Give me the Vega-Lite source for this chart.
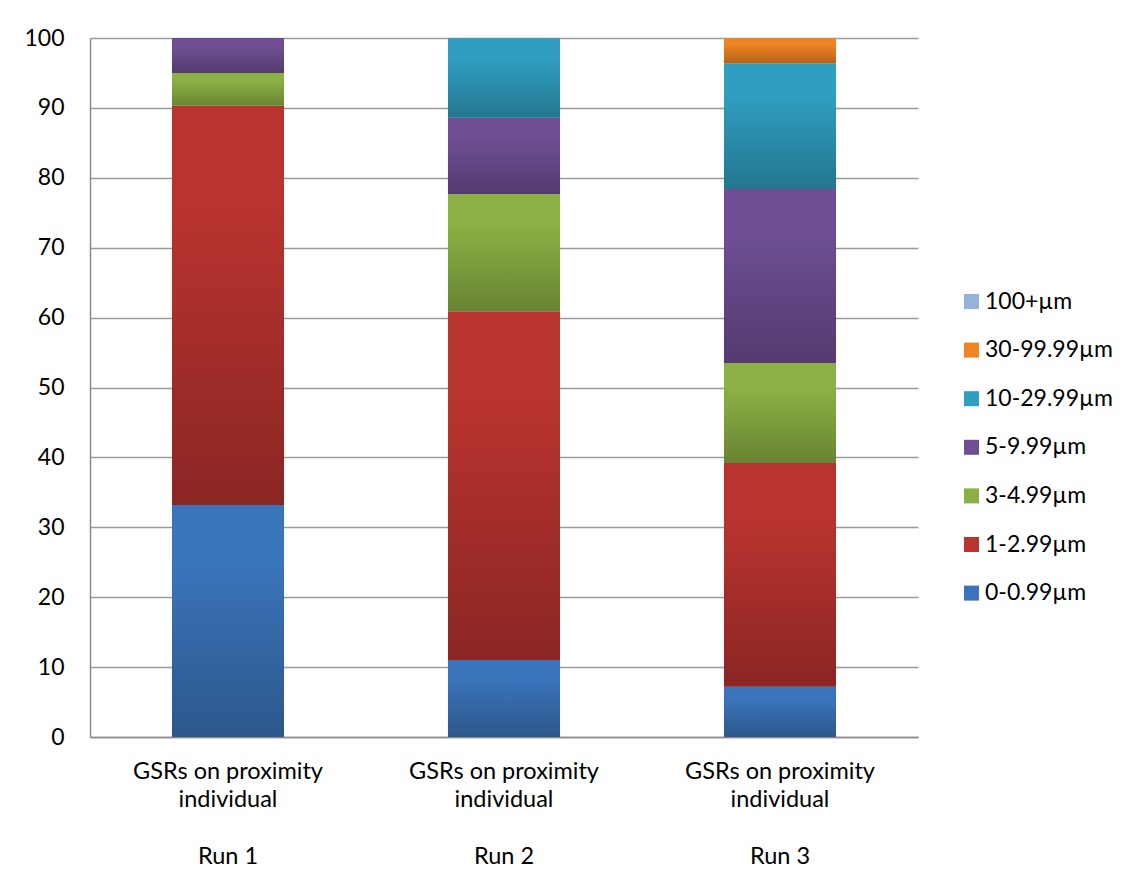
{
  "$schema": "https://vega.github.io/schema/vega-lite/v6.json",
  "autosize": "none",
  "padding": {"left": 90, "top": 38, "right": 223, "bottom": 144},
  "width": 828,
  "height": 699,
  "background": "white",
  "config": {
    "font": "Lato",
    "view": {"stroke": null},
    "axis": {"labelFont": "Lato", "labelFontSize": 23, "labelColor": "#000", "ticks": false, "domainColor": "#8a8a8a", "domainWidth": 1.5, "gridColor": "#9a9a9a", "gridWidth": 1.5, "title": null},
    "legend": {"labelFont": "Lato", "labelFontSize": 23, "labelColor": "#000"}
  },
  "data": {"values": [
    {"run": "Run 1", "size": "0-0.99µm", "pct": 33.2},
    {"run": "Run 1", "size": "1-2.99µm", "pct": 57.1},
    {"run": "Run 1", "size": "3-4.99µm", "pct": 4.7},
    {"run": "Run 1", "size": "5-9.99µm", "pct": 5.0},
    {"run": "Run 1", "size": "10-29.99µm", "pct": 0},
    {"run": "Run 1", "size": "30-99.99µm", "pct": 0},
    {"run": "Run 1", "size": "100+µm", "pct": 0},
    {"run": "Run 2", "size": "0-0.99µm", "pct": 11.0},
    {"run": "Run 2", "size": "1-2.99µm", "pct": 49.9},
    {"run": "Run 2", "size": "3-4.99µm", "pct": 16.8},
    {"run": "Run 2", "size": "5-9.99µm", "pct": 10.9},
    {"run": "Run 2", "size": "10-29.99µm", "pct": 11.4},
    {"run": "Run 2", "size": "30-99.99µm", "pct": 0},
    {"run": "Run 2", "size": "100+µm", "pct": 0},
    {"run": "Run 3", "size": "0-0.99µm", "pct": 7.2},
    {"run": "Run 3", "size": "1-2.99µm", "pct": 32.0},
    {"run": "Run 3", "size": "3-4.99µm", "pct": 14.3},
    {"run": "Run 3", "size": "5-9.99µm", "pct": 24.9},
    {"run": "Run 3", "size": "10-29.99µm", "pct": 18.0},
    {"run": "Run 3", "size": "30-99.99µm", "pct": 3.6},
    {"run": "Run 3", "size": "100+µm", "pct": 0}
  ]},
  "transform": [
    {"calculate": "indexof(['0-0.99µm', '1-2.99µm', '3-4.99µm', '5-9.99µm', '10-29.99µm', '30-99.99µm', '100+µm'], datum.size)", "as": "k"},
    {"stack": "pct", "groupby": ["run"], "sort": [{"field": "k", "order": "ascending"}], "as": ["y0", "y1"]}
  ],
  "encoding": {
    "x": {
      "field": "run", "type": "nominal",
      "scale": {"paddingInner": 0.594, "paddingOuter": 0.297},
      "axis": {"labelAngle": 0, "labelPadding": 22, "labelBaseline": "top", "labelLineHeight": 28.5, "labelFontSize": 23.5, "labelLimit": 400, "domain": true,
        "labelExpr": "['GSRs on proximity', 'individual', '\u200b', datum.value]"}
    },
    "y": {
      "field": "y0", "type": "quantitative",
      "scale": {"domain": [0, 100], "nice": false},
      "axis": {"values": [0, 10, 20, 30, 40, 50, 60, 70, 80, 90, 100], "labelPadding": 26, "grid": true, "domain": true}
    },
    "y2": {"field": "y1"}
  },
  "layer": [
    {
      "mark": {"type": "bar"},
      "encoding": {
        "color": {
          "field": "size", "type": "nominal",
          "scale": {
            "domain": ["0-0.99µm", "1-2.99µm", "3-4.99µm", "5-9.99µm", "10-29.99µm", "30-99.99µm", "100+µm"],
            "range": ["#3a74ba", "#b9332f", "#8cb043", "#6f4e94", "#2f9ec0", "#f08423", "#95b3d8"]
          },
          "legend": {
            "title": null, "orient": "none", "legendX": 870, "legendY": 252,
            "values": ["100+µm", "30-99.99µm", "10-29.99µm", "5-9.99µm", "3-4.99µm", "1-2.99µm", "0-0.99µm"],
            "symbolType": "square", "symbolSize": 225, "symbolStrokeWidth": 0, "symbolOpacity": 1, "rowPadding": 24.6, "labelOffset": 2
          }
        }
      }
    },
    {
      "mark": {
        "type": "bar",
        "color": {"gradient": "linear", "x1": 0, "y1": 0, "x2": 0, "y2": 1,
          "stops": [{"offset": 0, "color": "rgba(0,0,0,0)"}, {"offset": 0.25, "color": "rgba(0,0,0,0)"}, {"offset": 1, "color": "rgba(0,0,0,0.25)"}]}
      },
      "encoding": {}
    }
  ]
}
